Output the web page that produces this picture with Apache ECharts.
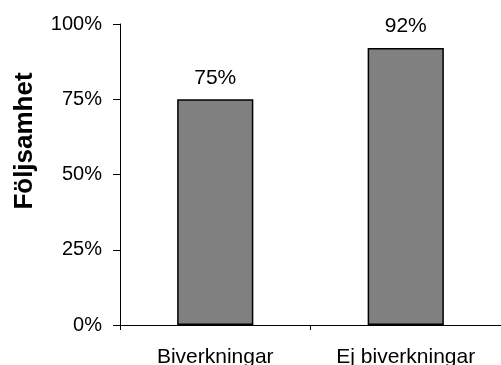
<!DOCTYPE html>
<html>
<head>
<meta charset="utf-8">
<script src="https://cdn.jsdelivr.net/npm/echarts@6/dist/echarts.min.js"></script>
<style>
  html, body { margin: 0; padding: 0; background: #fff; }
  #chart { width: 501px; height: 365px; }
</style>
</head>
<body>
<div id="chart"></div>
<script>
// Adherence (%) by whether side effects were reported
const categories = ['Biverkningar', 'Ej biverkningar'];
const adherence = [75, 92];
const yTicks = [0, 25, 50, 75, 100];

const font = '"Liberation Sans", Arial, sans-serif';
const chart = echarts.init(document.getElementById('chart'), null, { renderer: 'canvas' });

chart.setOption({
  animation: false,
  grid: { left: 120, right: 0, top: 24, bottom: 40, containLabel: false, outerBoundsMode: 'none' },
  graphic: [{
    type: 'text',
    x: 25,
    y: 141,
    rotation: Math.PI / 2,
    style: {
      text: 'Följsamhet',
      font: 'bold 26px ' + font,
      fill: '#000',
      textAlign: 'center',
      textVerticalAlign: 'middle'
    }
  }],
  xAxis: {
    type: 'category',
    data: categories,
    axisLine: { lineStyle: { color: '#000', width: 1 } },
    axisTick: { show: true, alignWithLabel: false, length: 5, lineStyle: { color: '#000' } },
    axisLabel: { color: '#000', fontFamily: font, fontSize: 21, margin: 22 }
  },
  yAxis: {
    type: 'value',
    min: yTicks[0],
    max: yTicks[yTicks.length - 1],
    interval: 25,
    splitLine: { show: false },
    axisLine: { show: true, lineStyle: { color: '#000', width: 1 } },
    axisTick: { show: true, length: 7, lineStyle: { color: '#000' } },
    axisLabel: {
      color: '#000', fontFamily: font, fontSize: 20, margin: 18,
      formatter: v => v + '%'
    }
  },
  series: [{
    type: 'bar',
    data: adherence,
    barWidth: '40%',
    itemStyle: { color: '#808080', borderColor: '#000', borderWidth: 1.5 },
    label: {
      show: true,
      position: 'top',
      distance: 11,
      color: '#000',
      fontFamily: font,
      fontSize: 21,
      formatter: p => p.value + '%'
    }
  }]
});
</script>
</body>
</html>
